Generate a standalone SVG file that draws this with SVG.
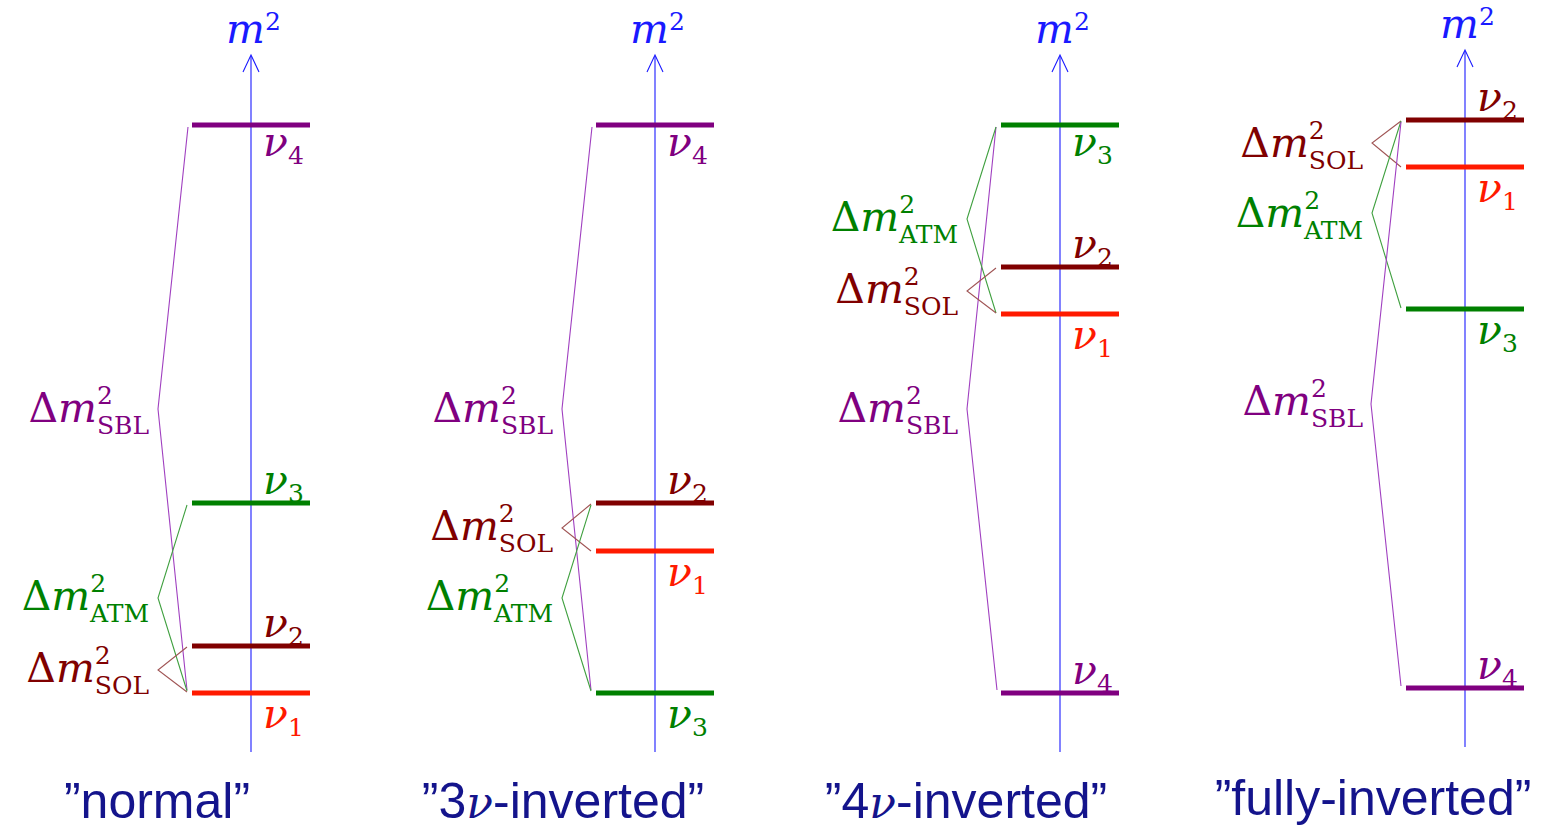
<svg xmlns="http://www.w3.org/2000/svg" width="1541" height="826" viewBox="0 0 1541 826">
<style>
  .axis{stroke:#1a1aff;stroke-width:1.1;fill:none}
  .lvl{stroke-width:5;fill:none}
  .br{stroke-width:1.1;fill:none;stroke-linejoin:miter}
  .m{font-family:"DejaVu Serif",serif;font-size:41px}
  .it{font-style:italic}
  .sm{font-size:25px;font-style:normal}
  .cap{font-family:"Liberation Sans",sans-serif;font-size:50px;fill:#14148c}
  .c4{stroke:#800080}.t4{fill:#800080}
  .c3{stroke:#008000}.t3{fill:#008000}
  .c2{stroke:#800000}.t2{fill:#800000}
  .c1{stroke:#ff1a00}.t1{fill:#ff1a00}
  .b4{stroke:#a040c0}.b3{stroke:#40a040}.b2{stroke:#a05555}
  .tb{fill:#1a1aff}
</style>
<defs>
  <g id="axis">
    <line class="axis" x1="251" y1="752" x2="251" y2="56"/>
    <polyline class="axis" points="243,72 251,55 259,72"/>
    <text class="m tb" x="226" y="43"><tspan class="it">m</tspan><tspan class="sm" dy="-13">2</tspan></text>
  </g>
</defs>

<!-- Panel 1: normal -->
<g id="panel-normal">
  <use href="#axis"/>
  <g id="n-nu4"><line class="lvl c4" x1="192" y1="125" x2="310" y2="125"/><text class="m t4" x="263" y="156"><tspan class="it">ν</tspan><tspan class="sm" dy="8">4</tspan></text></g>
  <g id="n-nu3"><line class="lvl c3" x1="192" y1="503" x2="310" y2="503"/><text class="m t3" x="263" y="494"><tspan class="it">ν</tspan><tspan class="sm" dy="8">3</tspan></text></g>
  <g id="n-nu2"><line class="lvl c2" x1="192" y1="646" x2="310" y2="646"/><text class="m t2" x="263" y="637"><tspan class="it">ν</tspan><tspan class="sm" dy="8">2</tspan></text></g>
  <g id="n-nu1"><line class="lvl c1" x1="192" y1="693" x2="310" y2="693"/><text class="m t1" x="263" y="728"><tspan class="it">ν</tspan><tspan class="sm" dy="8">1</tspan></text></g>
  <g id="n-connectors">
    <polyline class="br b4" points="188,127 158,409 187,690"/>
    <polyline class="br b3" points="187,505 158,598 187,691"/>
    <polyline class="br b2" points="187,647 158,670 187,692"/>
  </g>
  <g id="n-labels">
    <text class="m t4" x="149" y="422" text-anchor="end">Δ<tspan class="it">m</tspan><tspan class="sm" dy="-18">2</tspan><tspan class="sm" dx="-16" dy="30">SBL</tspan></text>
    <text class="m t3" x="149" y="610" text-anchor="end">Δ<tspan class="it">m</tspan><tspan class="sm" dy="-18">2</tspan><tspan class="sm" dx="-16" dy="30">ATM</tspan></text>
    <text class="m t2" x="149" y="682" text-anchor="end">Δ<tspan class="it">m</tspan><tspan class="sm" dy="-18">2</tspan><tspan class="sm" dx="-16" dy="30">SOL</tspan></text>
  </g>
</g>

<!-- Panel 2: 3nu-inverted -->
<g id="panel-3nu" transform="translate(404,0)">
  <use href="#axis"/>
  <g id="i3-nu4"><line class="lvl c4" x1="192" y1="125" x2="310" y2="125"/><text class="m t4" x="263" y="156"><tspan class="it">ν</tspan><tspan class="sm" dy="8">4</tspan></text></g>
  <g id="i3-nu2"><line class="lvl c2" x1="192" y1="503" x2="310" y2="503"/><text class="m t2" x="263" y="494"><tspan class="it">ν</tspan><tspan class="sm" dy="8">2</tspan></text></g>
  <g id="i3-nu1"><line class="lvl c1" x1="192" y1="551" x2="310" y2="551"/><text class="m t1" x="263" y="586"><tspan class="it">ν</tspan><tspan class="sm" dy="8">1</tspan></text></g>
  <g id="i3-nu3"><line class="lvl c3" x1="192" y1="693" x2="310" y2="693"/><text class="m t3" x="263" y="728"><tspan class="it">ν</tspan><tspan class="sm" dy="8">3</tspan></text></g>
  <g id="i3-connectors">
    <polyline class="br b4" points="188,127 158,409 187,690"/>
    <polyline class="br b2" points="187,504 158,528 187,551"/>
    <polyline class="br b3" points="187,505 158,598 187,691"/>
  </g>
  <g id="i3-labels">
    <text class="m t4" x="149" y="422" text-anchor="end">Δ<tspan class="it">m</tspan><tspan class="sm" dy="-18">2</tspan><tspan class="sm" dx="-16" dy="30">SBL</tspan></text>
    <text class="m t2" x="149" y="540" text-anchor="end">Δ<tspan class="it">m</tspan><tspan class="sm" dy="-18">2</tspan><tspan class="sm" dx="-16" dy="30">SOL</tspan></text>
    <text class="m t3" x="149" y="610" text-anchor="end">Δ<tspan class="it">m</tspan><tspan class="sm" dy="-18">2</tspan><tspan class="sm" dx="-16" dy="30">ATM</tspan></text>
  </g>
</g>

<!-- Panel 3: 4nu-inverted -->
<g id="panel-4nu" transform="translate(809,0)">
  <use href="#axis"/>
  <g id="i4-nu3"><line class="lvl c3" x1="192" y1="125" x2="310" y2="125"/><text class="m t3" x="263" y="156"><tspan class="it">ν</tspan><tspan class="sm" dy="8">3</tspan></text></g>
  <g id="i4-nu2"><line class="lvl c2" x1="192" y1="267" x2="310" y2="267"/><text class="m t2" x="263" y="258"><tspan class="it">ν</tspan><tspan class="sm" dy="8">2</tspan></text></g>
  <g id="i4-nu1"><line class="lvl c1" x1="192" y1="314" x2="310" y2="314"/><text class="m t1" x="263" y="349"><tspan class="it">ν</tspan><tspan class="sm" dy="8">1</tspan></text></g>
  <g id="i4-nu4"><line class="lvl c4" x1="192" y1="693" x2="310" y2="693"/><text class="m t4" x="263" y="684"><tspan class="it">ν</tspan><tspan class="sm" dy="8">4</tspan></text></g>
  <g id="i4-connectors">
    <polyline class="br b4" points="187,127 158,409 188,690"/>
    <polyline class="br b3" points="187,127 158,219 187,313"/>
    <polyline class="br b2" points="187,268 158,291 187,313"/>
  </g>
  <g id="i4-labels">
    <text class="m t3" x="149" y="231" text-anchor="end">Δ<tspan class="it">m</tspan><tspan class="sm" dy="-18">2</tspan><tspan class="sm" dx="-16" dy="30">ATM</tspan></text>
    <text class="m t2" x="149" y="303" text-anchor="end">Δ<tspan class="it">m</tspan><tspan class="sm" dy="-18">2</tspan><tspan class="sm" dx="-16" dy="30">SOL</tspan></text>
    <text class="m t4" x="149" y="422" text-anchor="end">Δ<tspan class="it">m</tspan><tspan class="sm" dy="-18">2</tspan><tspan class="sm" dx="-16" dy="30">SBL</tspan></text>
  </g>
</g>

<!-- Panel 4: fully-inverted -->
<g id="panel-full" transform="translate(1214,-5)">
  <use href="#axis"/>
  <g id="f-nu2"><line class="lvl c2" x1="192" y1="125" x2="310" y2="125"/><text class="m t2" x="263" y="116"><tspan class="it">ν</tspan><tspan class="sm" dy="8">2</tspan></text></g>
  <g id="f-nu1"><line class="lvl c1" x1="192" y1="172" x2="310" y2="172"/><text class="m t1" x="263" y="207"><tspan class="it">ν</tspan><tspan class="sm" dy="8">1</tspan></text></g>
  <g id="f-nu3"><line class="lvl c3" x1="192" y1="314" x2="310" y2="314"/><text class="m t3" x="263" y="349"><tspan class="it">ν</tspan><tspan class="sm" dy="8">3</tspan></text></g>
  <g id="f-nu4"><line class="lvl c4" x1="192" y1="693" x2="310" y2="693"/><text class="m t4" x="263" y="684"><tspan class="it">ν</tspan><tspan class="sm" dy="8">4</tspan></text></g>
  <g id="f-connectors">
    <polyline class="br b2" points="187,126 158,148 187,172"/>
    <polyline class="br b3" points="187,126 158,218 187,313"/>
    <polyline class="br b4" points="187,127 157,409 187,691"/>
  </g>
  <g id="f-labels">
    <text class="m t2" x="149" y="162" text-anchor="end">Δ<tspan class="it">m</tspan><tspan class="sm" dy="-18">2</tspan><tspan class="sm" dx="-16" dy="30">SOL</tspan></text>
    <text class="m t3" x="149" y="232" text-anchor="end">Δ<tspan class="it">m</tspan><tspan class="sm" dy="-18">2</tspan><tspan class="sm" dx="-16" dy="30">ATM</tspan></text>
    <text class="m t4" x="149" y="420" text-anchor="end">Δ<tspan class="it">m</tspan><tspan class="sm" dy="-18">2</tspan><tspan class="sm" dx="-16" dy="30">SBL</tspan></text>
  </g>
</g>

<!-- Captions -->
<g id="captions">
  <text class="cap" x="157" y="818" text-anchor="middle">”normal”</text>
  <text class="cap" x="563" y="818" text-anchor="middle">”3<tspan font-family="DejaVu Serif, serif" font-style="italic" font-size="44">ν</tspan>-inverted”</text>
  <text class="cap" x="966" y="818" text-anchor="middle">”4<tspan font-family="DejaVu Serif, serif" font-style="italic" font-size="44">ν</tspan>-inverted”</text>
  <text class="cap" x="1373" y="815" text-anchor="middle">”fully-inverted”</text>
</g>
</svg>
